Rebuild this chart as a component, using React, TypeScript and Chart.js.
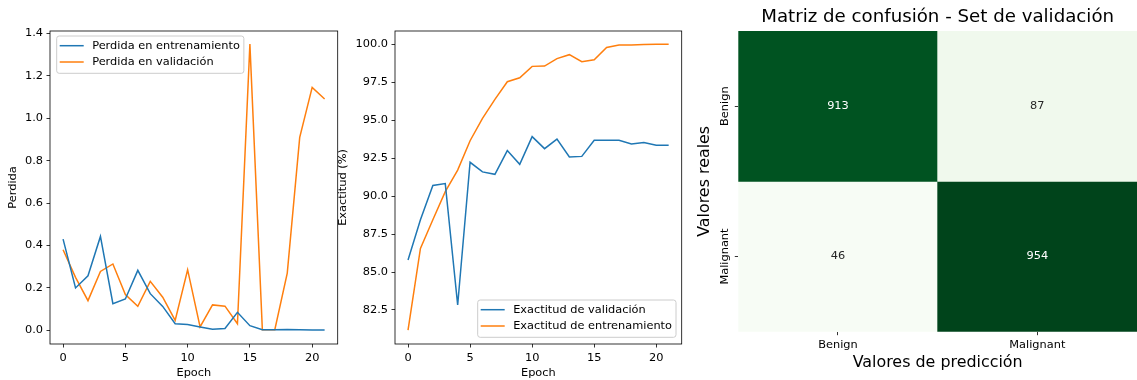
import React, { useEffect, useRef } from 'react';
import { Chart, registerables } from 'chart.js';

Chart.register(...registerables);

// ---------- data ----------
const epochs = [0, 1, 2, 3, 4, 5, 6, 7, 8, 9, 10, 11, 12, 13, 14, 15, 16, 17, 18, 19, 20, 21];
const lossTrain = [0.430, 0.200, 0.257, 0.443, 0.126, 0.148, 0.283, 0.173, 0.113, 0.031, 0.028, 0.016, 0.005, 0.009, 0.085, 0.022, 0.003, 0.003, 0.004, 0.003, 0.002, 0.002];
const lossVal = [0.380, 0.250, 0.140, 0.278, 0.313, 0.169, 0.113, 0.231, 0.156, 0.047, 0.286, 0.016, 0.120, 0.114, 0.031, 1.350, 0.003, 0.003, 0.270, 0.910, 1.146, 1.091];
const accVal = [85.79, 88.45, 90.70, 90.83, 82.83, 92.23, 91.60, 91.44, 93.00, 92.10, 93.92, 93.13, 93.76, 92.58, 92.62, 93.68, 93.68, 93.68, 93.43, 93.54, 93.35, 93.35];
const accTrain = [81.18, 86.56, 88.45, 90.30, 91.72, 93.65, 95.13, 96.38, 97.54, 97.80, 98.55, 98.57, 99.06, 99.32, 98.86, 98.99, 99.80, 99.96, 99.96, 99.99, 100.0, 100.0];

const epochTicks = [0, 5, 10, 15, 20];
const lossTicks = [0, 0.2, 0.4, 0.6, 0.8, 1.0, 1.2, 1.4];
const accTicks = [82.5, 85, 87.5, 90, 92.5, 95, 97.5, 100];

const cmClasses = ['Benign', 'Malignant'];
const cmRowBenign = [913, 87];
const cmRowMalignant = [46, 954];

// ---------- styles ----------
const FONT = '"DejaVu Sans", sans-serif';
const SMALL = 11.35;
const LABEL = 15.9;
const TITLE = 18.2;
const BLUE = '#1f77b4';
const ORANGE = '#ff7f0e';
const GREENS = ['#f7fcf5', '#e5f5e0', '#c7e9c0', '#a1d99b', '#74c476', '#41ab5d', '#238b45', '#006d2c', '#00441b'];

function hexRgb(h: string) {
  return [parseInt(h.slice(1, 3), 16), parseInt(h.slice(3, 5), 16), parseInt(h.slice(5, 7), 16)];
}
function greens(t: number) {
  const p = Math.max(0, Math.min(1, t)) * (GREENS.length - 1);
  const i = Math.min(Math.floor(p), GREENS.length - 2);
  const f = p - i;
  const a = hexRgb(GREENS[i]);
  const b = hexRgb(GREENS[i + 1]);
  const c = a.map((v, k) => Math.round(v + (b[k] - v) * f));
  return `rgb(${c[0]},${c[1]},${c[2]})`;
}
function isDark(t: number) {
  return t > 0.55;
}

Chart.defaults.font.family = FONT;
Chart.defaults.font.size = SMALL;
Chart.defaults.color = '#000';

const framePlugin = {
  id: 'frame',
  afterDraw(chart: any) {
    const { ctx, chartArea: a } = chart;
    ctx.save();
    ctx.strokeStyle = '#000';
    ctx.lineWidth = 0.8;
    ctx.strokeRect(a.left, a.top, a.right - a.left, a.bottom - a.top);
    ctx.restore();
  },
};

function makeLegend(corner: 'ul' | 'lr') {
  return {
    id: 'mplLegend',
    afterDatasetsDraw(chart: any) {
      const { ctx, chartArea: a } = chart;
      const ds = chart.data.datasets;
      ctx.save();
      ctx.font = `${SMALL}px ${FONT}`;
      const textW = Math.max(...ds.map((d: any) => ctx.measureText(d.label).width));
      const textX = 35.5;
      const w = textX + textW + 4;
      const h = 37.3;
      let left: number, top: number;
      if (corner === 'ul') {
        left = a.left + 6.7;
        top = a.top + 5;
      } else {
        left = a.right - 5.7 - w;
        top = a.bottom - 6.7 - h;
      }
      const r = 2.5;
      ctx.beginPath();
      ctx.moveTo(left + r, top);
      ctx.lineTo(left + w - r, top);
      ctx.arcTo(left + w, top, left + w, top + r, r);
      ctx.lineTo(left + w, top + h - r);
      ctx.arcTo(left + w, top + h, left + w - r, top + h, r);
      ctx.lineTo(left + r, top + h);
      ctx.arcTo(left, top + h, left, top + h - r, r);
      ctx.lineTo(left, top + r);
      ctx.arcTo(left, top, left + r, top, r);
      ctx.closePath();
      ctx.fillStyle = 'rgba(255,255,255,0.8)';
      ctx.fill();
      ctx.strokeStyle = '#cccccc';
      ctx.lineWidth = 1;
      ctx.stroke();
      ds.forEach((d: any, i: number) => {
        const y = top + 9.7 + i * 16.3;
        ctx.beginPath();
        ctx.moveTo(left + 3, y);
        ctx.lineTo(left + 27, y);
        ctx.strokeStyle = d.borderColor;
        ctx.lineWidth = 1.5;
        ctx.stroke();
        ctx.fillStyle = '#000';
        ctx.textAlign = 'left';
        ctx.textBaseline = 'middle';
        ctx.fillText(d.label, left + textX, y);
      });
      ctx.restore();
    },
  };
}

const cellTextPlugin = {
  id: 'cellText',
  afterDatasetsDraw(chart: any) {
    const { ctx } = chart;
    ctx.save();
    ctx.font = `${SMALL}px ${FONT}`;
    ctx.textAlign = 'center';
    ctx.textBaseline = 'middle';
    chart.data.datasets.forEach((d: any, di: number) => {
      const meta = chart.getDatasetMeta(di);
      meta.data.forEach((el: any, i: number) => {
        const { x, y, base } = el.getProps(['x', 'y', 'base'], true);
        ctx.fillStyle = d.textColors[i];
        ctx.fillText(String(d.values[i]), x, (y + base) / 2);
      });
    });
    ctx.restore();
  },
};

function lineConfig(opts: {
  a: number[]; b: number[]; la: string; lb: string; ca: string; cb: string;
  ticks: number[]; min: number; max: number; ytitle: string; yWidth: number; padRight: number; legend: 'ul' | 'lr';
}): any {
  const pts = (arr: number[]) => epochs.map((e, i) => ({ x: e, y: arr[i] }));
  return {
    type: 'line',
    data: {
      datasets: [
        { label: opts.la, data: pts(opts.a), borderColor: opts.ca, backgroundColor: opts.ca, borderWidth: 1.5, pointRadius: 0, tension: 0, fill: false },
        { label: opts.lb, data: pts(opts.b), borderColor: opts.cb, backgroundColor: opts.cb, borderWidth: 1.5, pointRadius: 0, tension: 0, fill: false },
      ],
    },
    options: {
      responsive: false,
      animation: false,
      devicePixelRatio: 1,
      layout: { padding: { top: 31, right: opts.padRight, bottom: 0, left: 0 } },
      plugins: { legend: { display: false }, tooltip: { enabled: false }, title: { display: false } },
      scales: {
        x: {
          type: 'linear',
          min: -1.05,
          max: 22.05,
          afterBuildTicks: (s: any) => { s.ticks = epochTicks.map((v) => ({ value: v })); },
          afterFit: (s: any) => { s.height = 36; },
          ticks: { callback: (v: any) => String(v), padding: 3.5, color: '#000', maxRotation: 0, autoSkip: false },
          grid: { drawOnChartArea: false, drawTicks: true, tickLength: 3.5, color: '#000', lineWidth: 0.8 },
          border: { display: false },
          title: { display: true, text: 'Epoch', color: '#000', font: { size: SMALL }, padding: { top: 0, bottom: 0.5 } },
        },
        y: {
          type: 'linear',
          min: opts.min,
          max: opts.max,
          afterBuildTicks: (s: any) => { s.ticks = opts.ticks.map((v) => ({ value: v })); },
          afterFit: (s: any) => { s.width = opts.yWidth; },
          ticks: { callback: (v: any) => Number(v).toFixed(1), padding: 3.5, color: '#000', autoSkip: false },
          grid: { drawOnChartArea: false, drawTicks: true, tickLength: 3.5, color: '#000', lineWidth: 0.8 },
          border: { display: false },
          title: { display: true, text: opts.ytitle, color: '#000', font: { size: SMALL }, padding: { top: 6.5, bottom: 0 } },
        },
      },
    },
    plugins: [makeLegend(opts.legend), framePlugin],
  };
}

function heatConfig(): any {
  const rows = [cmRowBenign, cmRowMalignant];
  const all = rows.flat();
  const vmin = Math.min(...all);
  const vmax = Math.max(...all);
  const mc = document.createElement('canvas').getContext('2d')!;
  mc.font = `${SMALL}px ${FONT}`;
  const widest = Math.max(...cmClasses.map((c) => mc.measureText(c).width));
  const yPad = 9.8 - widest / 2;
  return {
    type: 'bar',
    data: {
      labels: cmClasses,
      datasets: rows.map((row, r) => ({
        label: cmClasses[r],
        data: row.map(() => [r, r + 1]),
        values: row,
        backgroundColor: row.map((v) => greens((v - vmin) / (vmax - vmin))),
        textColors: row.map((v) => (isDark((v - vmin) / (vmax - vmin)) ? '#ffffff' : '#262626')),
        borderWidth: 0,
        barPercentage: 1,
        categoryPercentage: 1,
        grouped: false,
      })),
    },
    options: {
      responsive: false,
      animation: false,
      devicePixelRatio: 1,
      layout: { padding: 0 },
      plugins: {
        legend: { display: false },
        tooltip: { enabled: false },
        title: {
          display: true,
          text: 'Matriz de confusión - Set de validación',
          color: '#000',
          fullSize: false,
          font: { size: TITLE, weight: 'normal' },
          padding: { top: 6.4, bottom: 2.76 },
        },
      },
      scales: {
        x: {
          type: 'category',
          afterFit: (s: any) => { s.height = 48.3; },
          ticks: { padding: 3.5, color: '#000', maxRotation: 0, autoSkip: false },
          grid: { offset: false, drawOnChartArea: false, drawTicks: true, tickLength: 3.5, color: '#000', lineWidth: 0.8 },
          border: { display: false },
          title: { display: true, text: 'Valores de predicción', color: '#000', font: { size: LABEL }, padding: { top: 0, bottom: 7.16 } },
        },
        y: {
          type: 'linear',
          min: 0,
          max: 2,
          reverse: true,
          afterBuildTicks: (s: any) => { s.ticks = cmClasses.map((_, i) => ({ value: i + 0.5 })); },
          afterFit: (s: any) => { s.width = 48.3; },
          ticks: {
            callback: (v: any) => cmClasses[Math.floor(Number(v))],
            minRotation: 90,
            maxRotation: 90,
            crossAlign: 'center',
            padding: yPad,
            color: '#000',
            autoSkip: false,
          },
          grid: { drawOnChartArea: false, drawTicks: true, tickLength: 3.5, color: '#000', lineWidth: 0.8 },
          border: { display: false },
          title: { display: true, text: 'Valores reales', color: '#000', font: { size: LABEL }, padding: { top: 5.46, bottom: 0 } },
        },
      },
    },
    plugins: [cellTextPlugin],
  };
}

export default function App() {
  const r1 = useRef<HTMLCanvasElement>(null);
  const r2 = useRef<HTMLCanvasElement>(null);
  const r3 = useRef<HTMLCanvasElement>(null);

  useEffect(() => {
    const c1 = new Chart(r1.current!, lineConfig({
      a: lossTrain, b: lossVal,
      la: 'Perdida en entrenamiento', lb: 'Perdida en validación',
      ca: BLUE, cb: ORANGE,
      ticks: lossTicks, min: -0.0645, max: 1.412,
      ytitle: 'Perdida', yWidth: 50, padRight: 7.3, legend: 'ul',
    }));
    const c2 = new Chart(r2.current!, lineConfig({
      a: accVal, b: accTrain,
      la: 'Exactitud de validación', lb: 'Exactitud de entrenamiento',
      ca: BLUE, cb: ORANGE,
      ticks: accTicks, min: 80.26, max: 100.88,
      ytitle: 'Exactitud (%)', yWidth: 65, padRight: 8.3, legend: 'lr',
    }));
    const c3 = new Chart(r3.current!, heatConfig());
    return () => { c1.destroy(); c2.destroy(); c3.destroy(); };
  }, []);

  return (
    <div style={{ position: 'fixed', left: 0, top: 0, width: 1137, height: 380, background: '#fff', overflow: 'hidden' }}>
      <canvas ref={r1} width={345} height={380} style={{ position: 'absolute', left: 0, top: 0, width: 345, height: 380 }} />
      <canvas ref={r2} width={360} height={380} style={{ position: 'absolute', left: 330, top: 0, width: 360, height: 380 }} />
      <canvas ref={r3} width={447} height={380} style={{ position: 'absolute', left: 690, top: 0, width: 447, height: 380 }} />
    </div>
  );
}
